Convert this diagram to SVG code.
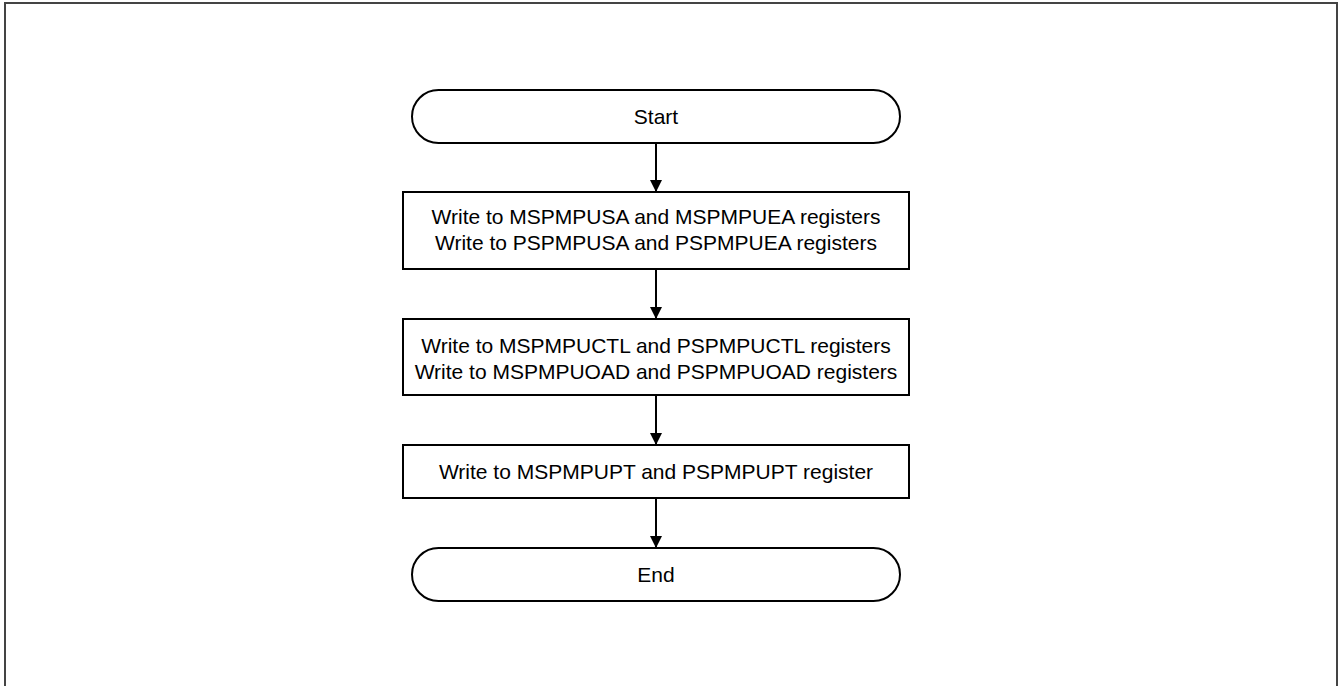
<svg xmlns="http://www.w3.org/2000/svg" width="1338" height="686" viewBox="0 0 1338 686">
<style>
.frame{fill:none;stroke:#444;stroke-width:2}
.shape{fill:#fff;stroke:#000;stroke-width:2}
.lbl{font-family:"Liberation Sans",Arial,sans-serif;font-size:21px;fill:#000;text-anchor:middle}
.conn{fill:none;stroke:#000;stroke-width:2;marker-end:url(#arr)}
</style>
<defs>
<marker id="arr" viewBox="0 0 12 12" refX="12" refY="6" markerWidth="12" markerHeight="12" markerUnits="userSpaceOnUse" orient="auto">
<path d="M0,0 L12,6 L0,12 z" fill="#000"/>
</marker>
</defs>
<rect width="1338" height="686" fill="#fff"/>
<path class="frame" d="M5,686 V3 H1337 V686"/>
<g id="start">
<rect class="shape" x="412" y="90" width="488" height="53" rx="26.5" ry="26.5"/>
<text class="lbl" x="656" y="123.5">Start</text>
</g>
<g id="step1">
<rect class="shape" x="403" y="192" width="506" height="77"/>
<text class="lbl" x="656" y="224">Write to MSPMPUSA and MSPMPUEA registers</text>
<text class="lbl" x="656" y="250">Write to PSPMPUSA and PSPMPUEA registers</text>
</g>
<g id="step2">
<rect class="shape" x="403" y="319" width="506" height="76"/>
<text class="lbl" x="656" y="352.5">Write to MSPMPUCTL and PSPMPUCTL registers</text>
<text class="lbl" x="656" y="378.5">Write to MSPMPUOAD and PSPMPUOAD registers</text>
</g>
<g id="step3">
<rect class="shape" x="403" y="445" width="506" height="53"/>
<text class="lbl" x="656" y="478.5">Write to MSPMPUPT and PSPMPUPT register</text>
</g>
<g id="end">
<rect class="shape" x="412" y="548" width="488" height="53" rx="26.5" ry="26.5"/>
<text class="lbl" x="656" y="581.5">End</text>
</g>
<g id="connectors">
<path class="conn" d="M656,143 V192"/>
<path class="conn" d="M656,269 V319"/>
<path class="conn" d="M656,395 V445"/>
<path class="conn" d="M656,498 V548"/>
</g>
</svg>
